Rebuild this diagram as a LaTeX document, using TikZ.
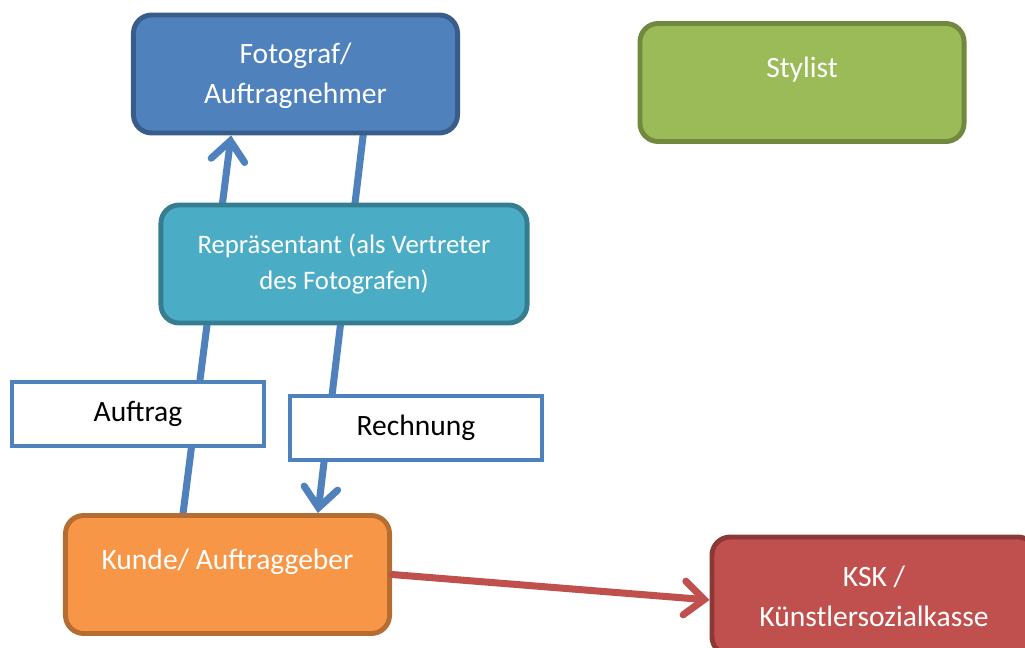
\documentclass[tikz,border=0pt]{standalone}
\usepackage{fontspec}
\setmainfont{Carlito}
\usetikzlibrary{arrows.meta,backgrounds}
\definecolor{fotofill}{HTML}{4F81BD}
\definecolor{fotodraw}{HTML}{385D8A}
\definecolor{stylfill}{HTML}{9BBB59}
\definecolor{styldraw}{HTML}{71893F}
\definecolor{repfill}{HTML}{4BACC6}
\definecolor{repdraw}{HTML}{357D91}
\definecolor{kundfill}{HTML}{F79646}
\definecolor{kunddraw}{HTML}{B66D31}
\definecolor{kskfill}{HTML}{C0504D}
\definecolor{kskdraw}{HTML}{8C3836}
\tikzset{
  party/.style={draw, line width=3.5pt, rounded corners=13pt, text=white,
    align=center, minimum width=8.1cm, minimum height=2.95cm,
    font=\fontsize{21}{28.5}\selectfont},
  onetext/.style={text depth=22pt},
  docbox/.style={draw=fotofill, fill=white, line width=3.2pt, text=black,
    minimum width=6.3cm, minimum height=1.6cm, font=\fontsize{21}{29}\selectfont},
  flow/.style={line width=5pt, line cap=round, -{Straight Barb[length=14pt,width=24pt,line cap=round]}},
}
\begin{document}
\begin{tikzpicture}[x=0.025cm,y=-0.025cm]
  \useasboundingbox (0,0) rectangle (1025,648);
  \node[party, fill=fotofill, draw=fotodraw, text depth=1pt] (fotograf) at (295.5,74) {Fotograf/\\Auftragnehmer};
  \node[party, onetext, fill=stylfill, draw=styldraw] (stylist) at (802,82.5) {Stylist};
  \node[party, fill=repfill, draw=repdraw, minimum width=9.15cm,
    font=\fontsize{19}{26}\selectfont] (rep) at (344,264)
    {Repräsentant (als Vertreter\\des Fotografen)};
  \node[docbox] (auftrag) at (138,414) {Auftrag};
  \node[docbox] (rechnung) at (416,428) {Rechnung};
  \node[party, onetext, fill=kundfill, draw=kunddraw] (kunde) at (227.5,574.5) {Kunde/ Auftraggeber};
  \node[party, fill=kskfill, draw=kskdraw] (ksk) at (874,596) {KSK /\\Künstlersozialkasse};
  % connectors behind the boxes
  \begin{scope}[on background layer]
    \draw[flow, fotofill] ([xshift=-1.11cm]kunde.north) -- ([xshift=-1.61cm]fotograf.south);
    \draw[flow, fotofill] ([xshift=1.69cm]fotograf.south) -- ([xshift=2.26cm]kunde.north);
  \end{scope}
  \draw[flow, kskfill] (kunde.east) -- ([yshift=-0.1cm]ksk.west);
\end{tikzpicture}
\end{document}
